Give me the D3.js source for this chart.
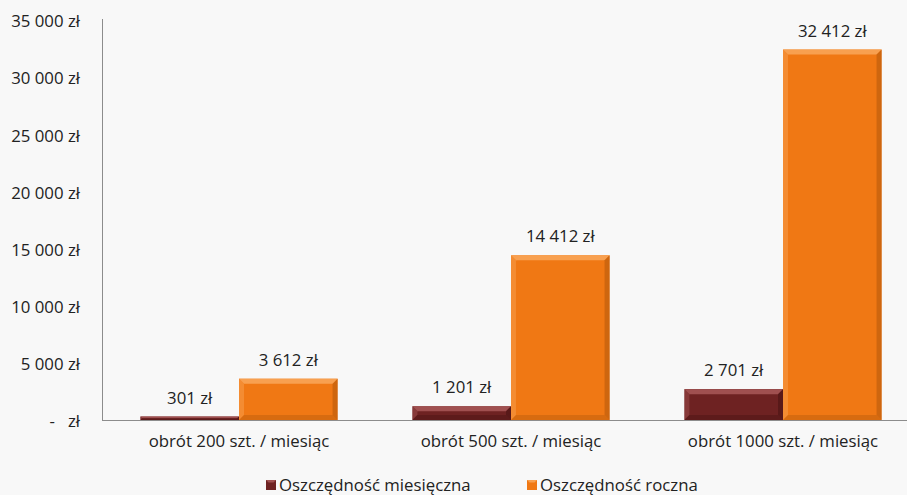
<!DOCTYPE html>
<html>
<head>
<meta charset="utf-8">
<script src="https://cdn.jsdelivr.net/npm/d3@7"></script>
<style>
  html, body { margin: 0; padding: 0; background: #f8f8f8; }
  svg { display: block; font-family: "Open Sans", Lato, sans-serif; }
</style>
</head>
<body>
<svg id="chart" width="907" height="495"></svg>
<script>
// Savings per turnover level
const categories = ["obrót 200 szt. / miesiąc", "obrót 500 szt. / miesiąc", "obrót 1000 szt. / miesiąc"];
const seriesNames = ["Oszczędność miesięczna", "Oszczędność roczna"];
const monthly = [301, 1201, 2701];
const yearly = [3612, 14412, 32412];
const yTicks = [0, 5000, 10000, 15000, 20000, 25000, 30000, 35000];

const colors = ["#6e2222", "#f07814"];
const light = ["#a05050", "#f8a050"];
const dark = ["#4a1414", "#b85a0c"];

const FONT = "'Open Sans', Lato, sans-serif";
const FS = 16.8;

const svg = d3.select("#chart");
const margin = { left: 102, top: 20, bottom: 420 };

const x0 = d3.scaleBand().domain(categories).range([103, 919]).paddingInner(0.275).paddingOuter(0.1375);
const x1 = d3.scaleBand().domain(seriesNames).range([0, x0.bandwidth()]);
const y = d3.scaleLinear().domain([0, 35000]).range([margin.bottom, margin.top]);

const fmt = v => v === 0 ? "-   zł" : d3.format(",")(v).replace(/,/g, " ") + " zł";

// Y axis labels
const yAxis = svg.append("g")
  .attr("transform", `translate(${margin.left},0)`)
  .call(d3.axisLeft(y).tickValues(yTicks).tickFormat(fmt).tickSize(0).tickPadding(22));
yAxis.select(".domain").remove();
yAxis.selectAll("text")
  .attr("font-size", FS).attr("fill", "#222")
  .attr("dy", "0.4em")
  .style("white-space", "pre")
  .attr("font-family", FONT);

// Vertical axis line
svg.append("line").attr("x1", margin.left + 0.5).attr("x2", margin.left + 0.5)
  .attr("y1", margin.top - 1).attr("y2", margin.bottom).attr("stroke", "#8c8c8c");

const rows = categories.map((c, i) => ({ cat: c, vals: [monthly[i], yearly[i]] }));

const groups = svg.append("g").selectAll("g").data(rows).join("g")
  .attr("transform", d => `translate(${x0(d.cat)},0)`);

const bars = groups.selectAll("g.bar").data(d => d.vals.map((v, s) => ({ v, s })))
  .join("g").attr("class", "bar");

bars.each(function(d) {
  const g = d3.select(this);
  const bx = x1(seriesNames[d.s]);
  const bw = x1.bandwidth();
  const top = y(d.v);
  const h = y(0) - top;
  const b = Math.min(5, h / 2);
  g.append("rect").attr("x", bx).attr("y", top).attr("width", bw).attr("height", h).attr("fill", colors[d.s]);
  // bevel edges
  g.append("polygon").attr("points", [[bx, top], [bx + bw, top], [bx + bw - b, top + b], [bx + b, top + b]].join(" "))
    .attr("fill", light[d.s]);
  g.append("polygon").attr("points", [[bx, top], [bx + b, top + b], [bx + b, top + h - b], [bx, top + h]].join(" "))
    .attr("fill", light[d.s]).attr("opacity", 0.5);
  g.append("polygon").attr("points", [[bx + bw, top], [bx + bw, top + h], [bx + bw - b, top + h - b], [bx + bw - b, top + b]].join(" "))
    .attr("fill", dark[d.s]).attr("opacity", 0.6);
  g.append("polygon").attr("points", [[bx, top + h], [bx + b, top + h - b], [bx + bw - b, top + h - b], [bx + bw, top + h]].join(" "))
    .attr("fill", dark[d.s]).attr("opacity", 0.45);
  // value label
  g.append("text").attr("x", bx + bw / 2).attr("y", top - 13)
    .attr("text-anchor", "middle").attr("font-size", FS).attr("fill", "#222")
    .text(fmt(d.v));
});

// Baseline
svg.append("line").attr("x1", margin.left).attr("x2", 907)
  .attr("y1", margin.bottom + 0.5).attr("y2", margin.bottom + 0.5).attr("stroke", "#8c8c8c");

// Category labels
svg.append("g").selectAll("text").data(categories).join("text")
  .attr("x", d => x0(d) + x0.bandwidth() / 2).attr("y", 447)
  .attr("text-anchor", "middle").attr("font-size", FS).attr("fill", "#222")
  .text(d => d);

// Legend
const legendX = [266, 527];
const leg = svg.append("g").selectAll("g").data(seriesNames).join("g")
  .attr("transform", (d, i) => `translate(${legendX[i]},480)`);
leg.append("rect").attr("x", 0).attr("y", 0).attr("width", 10).attr("height", 10)
  .attr("fill", (d, i) => colors[i]);
leg.append("polygon").attr("points", "0,0 10,0 7.5,2.5 2.5,2.5").attr("fill", (d, i) => light[i]);
leg.append("text").attr("x", 13).attr("y", 10.5).attr("font-size", FS).attr("fill", "#222")
  .text(d => d);
</script>
</body>
</html>
